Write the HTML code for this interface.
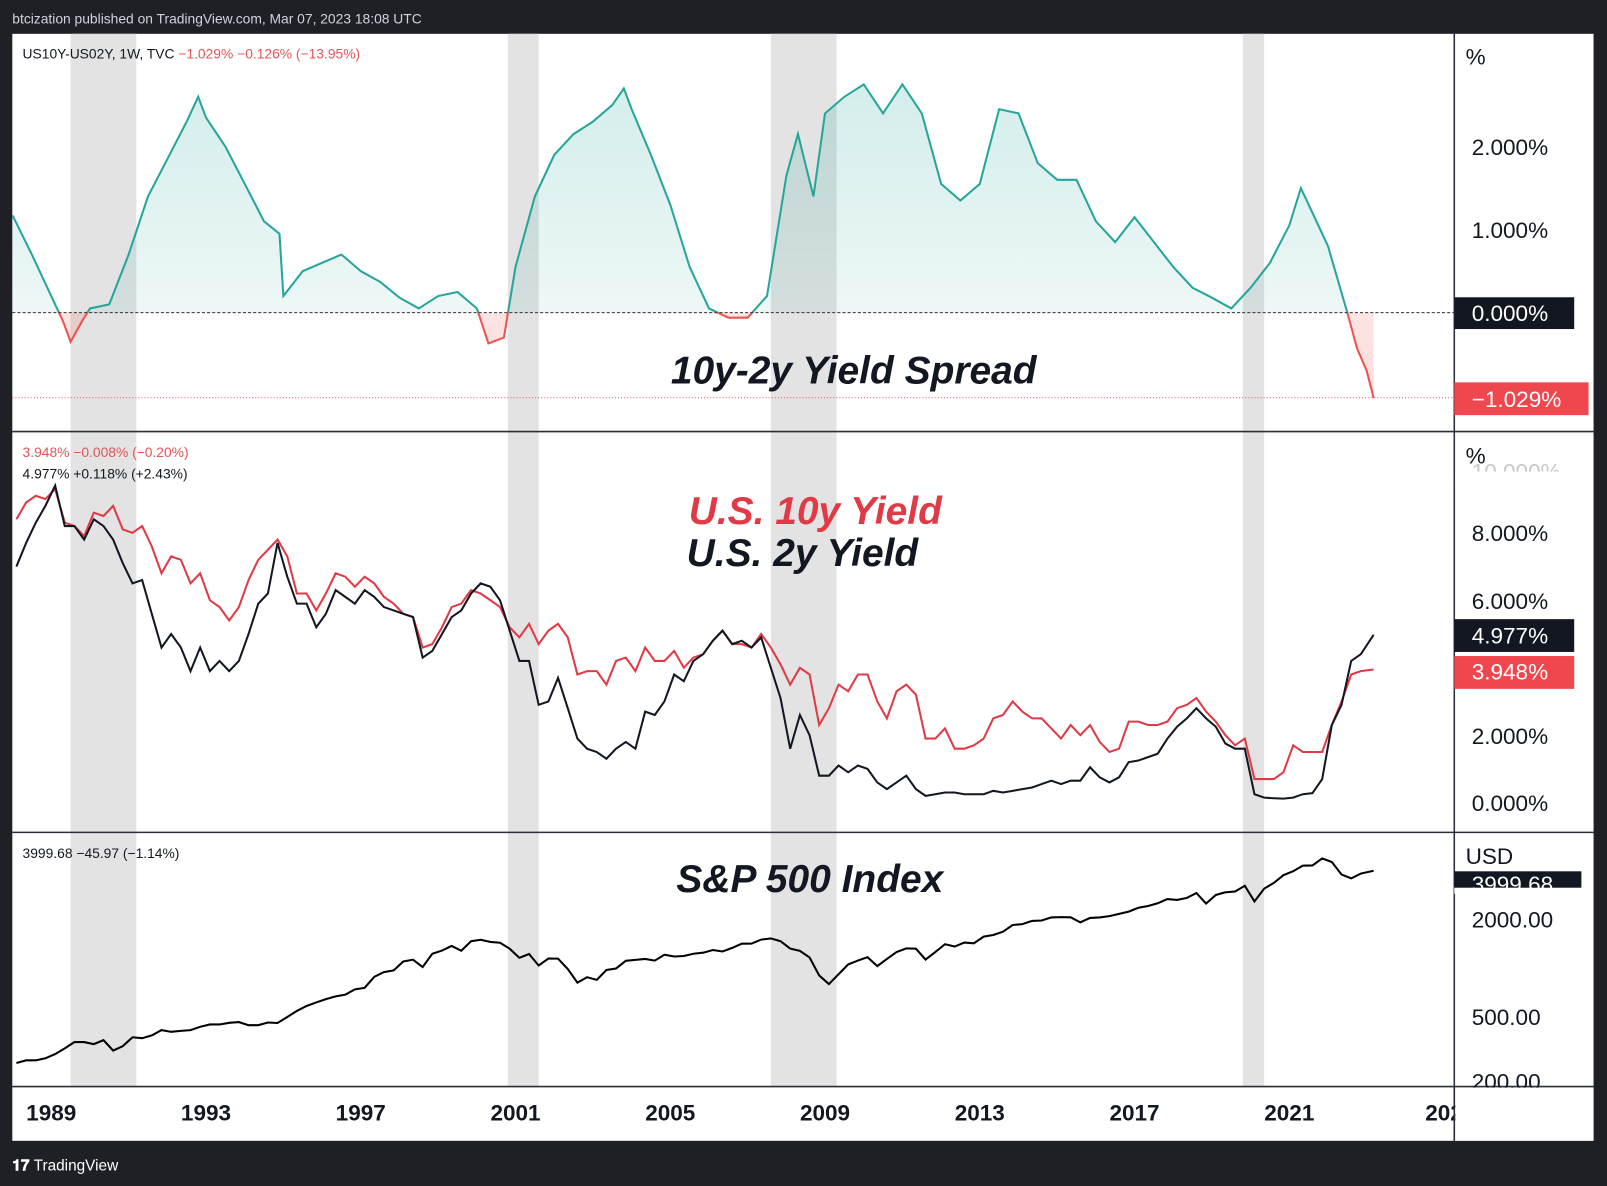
<!DOCTYPE html>
<html><head><meta charset="utf-8"><style>
html,body{margin:0;padding:0;background:#1e2025;width:1607px;height:1186px;overflow:hidden}
svg{display:block;font-family:"Liberation Sans",sans-serif}
</style></head><body>
<svg id="chart" width="1607" height="1186" viewBox="0 0 1568 1157" preserveAspectRatio="none" xmlns="http://www.w3.org/2000/svg">
<rect x="0" y="0" width="1568" height="1157" fill="#1e2025"/>
<text x="12" y="23" fill="#d1d4dc" font-size="13.5">btcization published on TradingView.com, Mar 07, 2023 18:08 UTC</text>
<rect x="12" y="33" width="1543" height="1080" fill="#ffffff"/>
<g id="bands"></g>
<defs>
<clipPath id="abovez"><rect x="12" y="33" width="1407" height="272"/></clipPath>
<clipPath id="belowz"><rect x="12" y="305" width="1407" height="116"/></clipPath>
<clipPath id="plot2"><rect x="12" y="421" width="1407" height="391"/></clipPath>
<linearGradient id="tealg" x1="0" y1="0" x2="0" y2="1"><stop offset="0" stop-color="#26a69a" stop-opacity="0.2"/><stop offset="1" stop-color="#26a69a" stop-opacity="0.04"/></linearGradient>
<linearGradient id="redg" x1="0" y1="0" x2="0" y2="1"><stop offset="0" stop-color="#ef5350" stop-opacity="0.04"/><stop offset="1" stop-color="#ef5350" stop-opacity="0.2"/></linearGradient>
</defs>
<g id="series"></g>
<line x1="12" y1="421" x2="1555" y2="421" stroke="#2a2e39" stroke-width="1.5"/>
<line x1="12" y1="812" x2="1555" y2="812" stroke="#2a2e39" stroke-width="1.5"/>
<line x1="12" y1="1060" x2="1555" y2="1060" stroke="#2a2e39" stroke-width="1.5"/>
<line x1="1419" y1="33" x2="1419" y2="1113" stroke="#2a2e39" stroke-width="1.5"/>
<line x1="12" y1="305" x2="1419" y2="305" stroke="#333" stroke-width="1" stroke-dasharray="3,2"/>
<line x1="12" y1="388" x2="1419" y2="388" stroke="#ef5350" stroke-width="1" stroke-dasharray="1,2"/>
<text x="22" y="57" font-size="13.5" fill="#131722">US10Y-US02Y, 1W, TVC <tspan fill="#e0555a">−1.029%  −0.126% (−13.95%)</tspan></text>
<text x="22" y="446" font-size="13.5" fill="#e0555a">3.948%  −0.008% (−0.20%)</text>
<text x="22" y="467" font-size="13.5" fill="#131722">4.977%  +0.118% (+2.43%)</text>
<text x="22" y="837" font-size="13.5" fill="#131722">3999.68  −45.97 (−1.14%)</text>
<text x="833" y="374" font-size="38" font-weight="bold" font-style="italic" fill="#131722" text-anchor="middle">10y-2y Yield Spread</text>
<text x="672" y="511" font-size="38" font-weight="bold" font-style="italic" fill="#e03a47">U.S. 10y Yield</text>
<text x="670" y="552" font-size="38" font-weight="bold" font-style="italic" fill="#131722">U.S. 2y Yield</text>
<text x="660" y="870" font-size="38" font-weight="bold" font-style="italic" fill="#131722">S&amp;P 500 Index</text>
<g font-size="22" fill="#131722">
<text x="1430" y="63">%</text>
<text x="1436" y="151">2.000%</text>
<text x="1436" y="232">1.000%</text>
<rect x="1419" y="290" width="117" height="31" fill="#131722"/>
<text x="1436" y="313" fill="#fff">0.000%</text>
<rect x="1419" y="373" width="131" height="32" fill="#f0474e"/>
<text x="1436" y="397" fill="#fff">−1.029%</text>
<text x="1430" y="452">%</text>
<text x="1436" y="468" fill="#c8c8c8">10.000%</text>
<rect x="1420" y="460" width="134" height="12" fill="#fff"/>
<text x="1436" y="528">8.000%</text>
<text x="1436" y="594">6.000%</text>
<rect x="1419" y="604" width="117" height="32" fill="#131722"/>
<text x="1436" y="628" fill="#fff">4.977%</text>
<rect x="1419" y="640" width="117" height="32" fill="#f0474e"/>
<text x="1436" y="663" fill="#fff">3.948%</text>
<text x="1436" y="726">2.000%</text>
<text x="1436" y="791">0.000%</text>
<text x="1430" y="843">USD</text>
<rect x="1419" y="850" width="124" height="17" fill="#131722"/>
<text x="1436" y="870" fill="#fff">3999.68</text>
<text x="1436" y="905">2000.00</text>
<text x="1436" y="1000">500.00</text>
<text x="1436" y="1063">200.00</text>
</g>
<rect x="1419" y="866" width="134" height="6" fill="#fff"/>
<g id="timeaxis" font-size="22" font-weight="bold" fill="#131722"></g>
<rect x="1420" y="1061" width="135" height="52" fill="#fff"/>
<line x1="1419" y1="1060" x2="1419" y2="1113" stroke="#2a2e39" stroke-width="1.5"/>
<rect x="1555" y="33" width="13" height="1080" fill="#1e2025"/>
<rect x="0" y="1113" width="1568" height="44" fill="#1e2025"/>
<text x="12" y="1142" font-size="15" font-weight="bold" fill="#ffffff">𝟏𝟕 <tspan font-weight="normal">TradingView</tspan></text>
</svg>
<script>
const recessions = [[1989.5,1991.2],[2000.8,2001.6],[2007.6,2009.3],[2019.8,2020.35]];
const tickYears = [1989,1993,1997,2001,2005,2009,2013,2017,2021,2025];
const tickLabels = ["1989","1993","1997","2001","2005","2009","2013","2017","2021","202"];
const spreadDates = [1988.0,1988.5,1989.0,1989.3,1989.5,1989.8,1990.0,1990.5,1991.0,1991.5,1992.0,1992.5,1992.8,1993.0,1993.5,1994.0,1994.5,1994.9,1995.0,1995.5,1996.0,1996.5,1997.0,1997.5,1998.0,1998.5,1999.0,1999.5,2000.0,2000.3,2000.7,2001.0,2001.5,2002.0,2002.5,2003.0,2003.5,2003.8,2004.0,2004.5,2005.0,2005.5,2006.0,2006.5,2007.0,2007.5,2008.0,2008.3,2008.7,2009.0,2009.5,2010.0,2010.5,2011.0,2011.5,2012.0,2012.5,2013.0,2013.5,2014.0,2014.5,2015.0,2015.5,2016.0,2016.5,2017.0,2017.5,2018.0,2018.5,2019.0,2019.5,2020.0,2020.5,2021.0,2021.3,2021.5,2022.0,2022.5,2022.75,2023.0,2023.18];
const spreadValues = [1.17,0.7,0.2,-0.1,-0.35,-0.1,0.05,0.1,0.7,1.4,1.85,2.3,2.6,2.35,2.0,1.55,1.1,0.95,0.2,0.5,0.6,0.7,0.5,0.37,0.18,0.05,0.2,0.25,0.05,-0.37,-0.3,0.55,1.4,1.9,2.15,2.3,2.5,2.7,2.45,1.9,1.3,0.55,0.05,-0.06,-0.06,0.2,1.65,2.15,1.4,2.4,2.6,2.75,2.4,2.75,2.4,1.55,1.35,1.55,2.45,2.4,1.8,1.6,1.6,1.1,0.85,1.15,0.85,0.55,0.3,0.18,0.05,0.3,0.6,1.05,1.5,1.3,0.8,0.0,-0.43,-0.7,-1.029];
const yieldStart = 1988.0;
const us10y = [8.4,8.9,9.1,9.0, 9.3,8.3,8.2,7.9, 8.6,8.5,8.8,8.1, 8.0,8.2,7.6,6.8, 7.3,7.2,6.5,6.8, 6.0,5.8,5.4,5.8, 6.6,7.2,7.5,7.8, 7.3,6.2,6.2,5.7, 6.2,6.8,6.7,6.4, 6.7,6.5,6.1,5.9, 5.6,5.5,4.6,4.7, 5.2,5.8,5.9,6.3, 6.2,6.0,5.8,5.2, 4.9,5.3,4.7,5.1, 5.3,4.9,3.8,3.9, 3.9,3.5,4.2,4.3, 3.9,4.6,4.2,4.2, 4.5,4.0,4.3,4.4, 4.8,5.1,4.7,4.7, 4.6,5.0,4.6,4.1, 3.5,4.0,3.8,2.3, 2.8,3.5,3.3,3.8, 3.8,3.0,2.5,3.3, 3.5,3.2,1.9,1.9, 2.2,1.6,1.6,1.7, 1.9,2.5,2.6,3.0, 2.7,2.5,2.5,2.2, 1.9,2.3,2.0,2.3, 1.8,1.5,1.6,2.4, 2.4,2.3,2.3,2.4, 2.8,2.9,3.1,2.7, 2.4,2.0,1.7,1.9, 0.7,0.7,0.7,0.9, 1.7,1.5,1.5,1.5, 2.3,3.0,3.8,3.9, 3.948];
const us2y = [7.0,7.7,8.3,8.8, 9.4,8.2,8.2,7.8, 8.4,8.2,7.8,7.1, 6.5,6.6,5.6,4.6, 5.0,4.6,3.9,4.6, 3.9,4.2,3.9,4.2, 5.0,5.9,6.2,7.7, 6.7,5.9,5.9,5.2, 5.6,6.3,6.1,5.9, 6.3,6.1,5.8,5.7, 5.6,5.5,4.3,4.5, 5.0,5.5,5.7,6.2, 6.5,6.4,6.0,5.1, 4.2,4.2,2.9,3.0, 3.7,2.8,1.9,1.6, 1.5,1.3,1.6,1.8, 1.6,2.7,2.6,3.0, 3.8,3.6,4.2,4.4, 4.8,5.1,4.7,4.8, 4.6,4.9,4.0,3.1, 1.6,2.6,2.0,0.8, 0.8,1.1,0.9,1.1, 1.0,0.6,0.4,0.6, 0.8,0.4,0.2,0.25, 0.3,0.3,0.25,0.25, 0.25,0.35,0.3,0.35, 0.4,0.45,0.55,0.65, 0.55,0.65,0.65,1.05, 0.75,0.6,0.75,1.2, 1.25,1.35,1.45,1.9, 2.25,2.5,2.8,2.5, 2.25,1.75,1.6,1.6, 0.25,0.15,0.13,0.12, 0.15,0.25,0.28,0.7, 2.3,2.9,4.2,4.4, 4.977];
const spx = [260,270,270,278, 295,320,350,350, 340,360,310,330, 375,370,385,415, 405,410,415,435, 450,450,460,465, 445,445,462,459, 500,545,585,615, 645,670,687,740, 757,885,947,970, 1100,1130,1017,1229, 1286,1373,1282,1469, 1498,1454,1436,1320, 1160,1224,1040,1148, 1147,990,815,880, 848,975,996,1112, 1126,1141,1115,1212, 1181,1191,1229,1248, 1295,1270,1336,1418, 1420,1503,1527,1468, 1323,1280,1166,903, 798,919,1057,1115, 1169,1031,1141,1258, 1326,1321,1131,1258, 1408,1362,1441,1426, 1569,1606,1682,1848, 1872,1960,1972,2059, 2068,2063,1920,2044, 2060,2099,2168,2239, 2363,2423,2519,2674, 2640,2718,2914,2507, 2834,2942,2977,3231, 2585,3100,3363,3756, 3973,4298,4308,4766, 4530,3785,3586,3840, 3999.68];

const NS='http://www.w3.org/2000/svg';
const xOf = yr => 50 + (yr - 1989) * 37.75;
const ySpread = v => 305 - v * 81;
const yYield = v => 783 - v * 32.9;
const ySpx = v => 897 - Math.log10(v / 2000) * 158;
const qDate = (i, n) => i === n - 1 ? 2023.18 : yieldStart + i * 0.25 + 0.1;

const bands = document.getElementById('bands');
recessions.forEach(r => {
  const el = document.createElementNS(NS,'rect');
  el.setAttribute('x', xOf(r[0])); el.setAttribute('y', 33);
  el.setAttribute('width', xOf(r[1]) - xOf(r[0])); el.setAttribute('height', 1027);
  el.setAttribute('fill', '#e3e3e3');
  
  
  bands.appendChild(el);
});
const g = document.getElementById('series');
function addPath(d, attrs, name) {
  const p = document.createElementNS(NS,'path');
  p.setAttribute('d', d);
  for (const k in attrs) p.setAttribute(k, attrs[k]);
  
  
  g.appendChild(p);
}
let sd = spreadValues.map((v,i)=>(i?'L':'M')+xOf(spreadDates[i]).toFixed(1)+','+ySpread(v).toFixed(1)).join('');
const sArea = sd + 'L' + xOf(spreadDates[spreadDates.length-1]).toFixed(1) + ',305L' + xOf(spreadDates[0]).toFixed(1) + ',305Z';
addPath(sArea, {fill:'url(#tealg)', 'clip-path':'url(#abovez)'}, 'spread-area-positive');
addPath(sArea, {fill:'url(#redg)', 'clip-path':'url(#belowz)'}, 'spread-area-negative');
addPath(sd, {fill:'none', stroke:'#26a69a', 'stroke-width':2, 'clip-path':'url(#abovez)'}, 'spread-line-positive');
addPath(sd, {fill:'none', stroke:'#ef5350', 'stroke-width':2, 'clip-path':'url(#belowz)'}, 'spread-line-negative');
const yd10 = us10y.map((v,i)=>(i?'L':'M')+xOf(qDate(i,us10y.length)).toFixed(1)+','+yYield(v).toFixed(1)).join('');
const yd2 = us2y.map((v,i)=>(i?'L':'M')+xOf(qDate(i,us2y.length)).toFixed(1)+','+yYield(v).toFixed(1)).join('');
addPath(yd10, {fill:'none', stroke:'#e03a47', 'stroke-width':2, 'clip-path':'url(#plot2)'}, 'us10y-line');
addPath(yd2, {fill:'none', stroke:'#131722', 'stroke-width':2, 'clip-path':'url(#plot2)'}, 'us2y-line');
const sp = spx.map((v,i)=>(i?'L':'M')+xOf(qDate(i,spx.length)).toFixed(1)+','+ySpx(v).toFixed(1)).join('');
addPath(sp, {fill:'none', stroke:'#000', 'stroke-width':2}, 'spx-line');
const ta = document.getElementById('timeaxis');
tickYears.forEach((yr,i) => {
  const t = document.createElementNS(NS,'text');
  t.setAttribute('x', xOf(yr)); t.setAttribute('y', 1093);
  t.setAttribute('text-anchor', 'middle');
  t.textContent = tickLabels[i];
  
  
  ta.appendChild(t);
});
</script>
</body></html>
